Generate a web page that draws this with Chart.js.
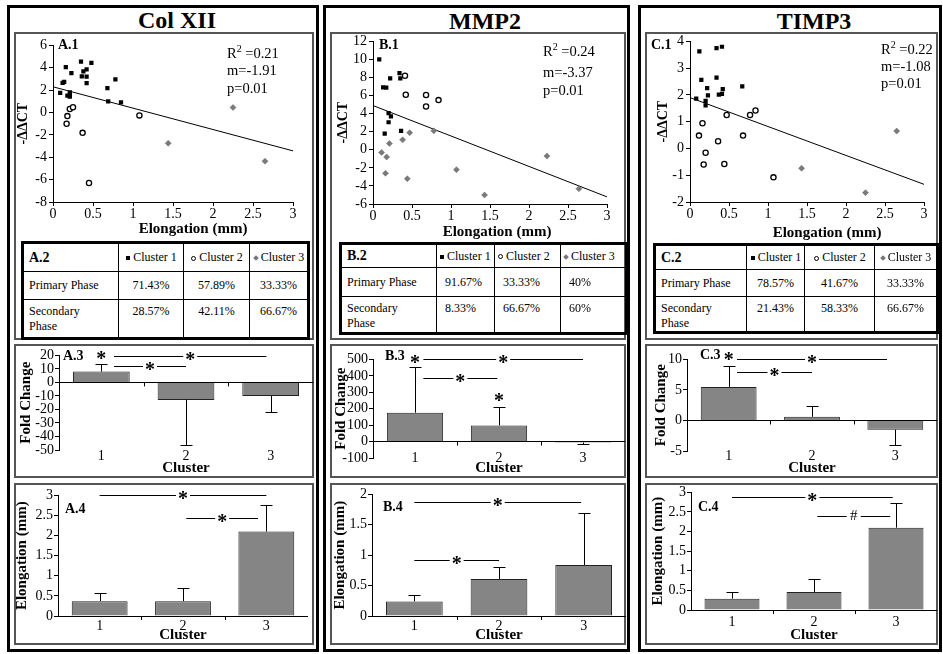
<!DOCTYPE html>
<html>
<head>
<meta charset="utf-8">
<script src="https://cdn.jsdelivr.net/npm/chart.js@4.4.0/dist/chart.umd.min.js"></script>
<style>
  body { margin: 0; width: 943px; height: 654px; background: #fff; position: relative; overflow: hidden;
         font-family: 'Liberation Serif', 'Times New Roman', serif; color: #000; }
  .col { position: absolute; border: 3px solid #000; box-sizing: border-box; }
  .box { position: absolute; border: 2px solid #555; box-sizing: border-box; }
  canvas { position: absolute; }
  .head { position: absolute; font-weight: bold; font-size: 24px; transform: translate(-50%, -50%); white-space: nowrap; }
  .xt { position: absolute; font-weight: bold; font-size: 15px; line-height: 18px; transform: translateX(-50%); white-space: nowrap; }
  .lab { position: absolute; font-weight: bold; font-size: 14px; line-height: 18px; white-space: nowrap; }
  .stat { position: absolute; font-size: 14.5px; line-height: 18px; white-space: nowrap; }
  .stat sup { font-size: 10px; line-height: 0; }
  table { position: absolute; border-collapse: collapse; border: 3px solid #000; font-size: 12px; table-layout: fixed; }
  td { border: 1px solid #000; padding: 0 5px; line-height: 15px; overflow: hidden; white-space: nowrap; }
  .mk { display: inline-block; width: 4px; height: 4px; vertical-align: middle; margin-right: 3px; }
  .m1 { background: #000; }
  .m2 { border: 1px solid #000; border-radius: 50%; width: 3px; height: 3px; }
  .m3 { background: #777; transform: rotate(45deg); }
</style>
</head>
<body>
<div class="col" style="left:7px;top:5px;width:312px;height:647px"></div>
<div class="col" style="left:323px;top:5px;width:307px;height:647px"></div>
<div class="col" style="left:638px;top:5px;width:304px;height:647px"></div>

<div class="box" style="left:14px;top:32px;width:300px;height:308px"></div>
<div class="box" style="left:14px;top:344px;width:300px;height:134px"></div>
<div class="box" style="left:14px;top:483px;width:300px;height:162px"></div>
<div class="box" style="left:330px;top:32px;width:296px;height:308px"></div>
<div class="box" style="left:330px;top:344px;width:296px;height:134px"></div>
<div class="box" style="left:330px;top:483px;width:296px;height:162px"></div>
<div class="box" style="left:645px;top:32px;width:293px;height:308px"></div>
<div class="box" style="left:645px;top:344px;width:293px;height:134px"></div>
<div class="box" style="left:645px;top:483px;width:293px;height:162px"></div>

<div class="head" style="left:177px;top:20px">Col XII</div>
<div class="head" style="left:485px;top:21px">MMP2</div>
<div class="head" style="left:814px;top:21px">TIMP3</div>

<canvas id="a1"></canvas><canvas id="b1"></canvas><canvas id="c1"></canvas>
<canvas id="a3"></canvas><canvas id="b3"></canvas><canvas id="c3"></canvas>
<canvas id="a4"></canvas><canvas id="b4"></canvas><canvas id="c4"></canvas>

<script>
// ---------- data ----------
const clusterLabels = ['1', '2', '3'];

// scatter points: [elongation (mm), -ΔΔCT]
const colXII_c1 = [[0.09,1.76],[0.12,2.65],[0.14,2.74],[0.16,4.06],[0.18,1.5],[0.21,1.8],[0.21,1.56],[0.21,1.41],
  [0.23,3.53],[0.35,4.56],[0.36,3.24],[0.38,3.68],[0.42,3.2],[0.42,3.85],[0.42,2.62],[0.48,4.44],[0.68,2.18],
  [0.69,1.0],[0.78,2.97],[0.85,0.91]];
const colXII_c2 = [[0.21,0.32],[0.25,0.47],[0.18,-0.32],[0.17,-1.0],[0.37,-1.82],[0.45,-6.3],[1.08,-0.26]];
const colXII_c3 = [[1.44,-2.75],[2.25,0.45],[2.65,-4.35]];

const mmp2_c1 = [[0.08,10.0],[0.13,6.9],[0.17,6.87],[0.22,7.9],[0.34,8.5],[0.35,7.9],[0.2,4.07],[0.23,3.7],
  [0.2,3.05],[0.15,1.8],[0.36,2.1]];
const mmp2_c2 = [[0.41,8.2],[0.42,6.1],[0.68,6.07],[0.68,4.8],[0.84,5.5]];
const mmp2_c3 = [[0.11,-0.29],[0.16,-2.6],[0.175,-0.8],[0.21,0.7],[0.38,1.1],[0.44,-3.2],[0.47,1.9],[0.78,2.1],
  [1.07,-2.2],[1.43,-5.0],[2.23,-0.7],[2.64,-4.3]];

const timp3_c1 = [[0.08,1.86],[0.12,3.63],[0.145,2.56],[0.2,1.78],[0.2,1.61],[0.22,2.25],[0.23,1.98],[0.34,3.75],
  [0.34,2.65],[0.37,2.01],[0.41,3.8],[0.41,2.04],[0.42,2.22],[0.67,2.32]];
const timp3_c2 = [[0.115,0.48],[0.16,0.94],[0.175,-0.6],[0.2,-0.16],[0.36,0.27],[0.44,-0.58],[0.47,1.25],
  [0.68,0.48],[0.77,1.25],[0.84,1.42],[1.07,-1.08]];
const timp3_c3 = [[1.43,-0.74],[2.25,-1.65],[2.65,0.65]];

const trendSlope = [-1.91, -3.37, -1.08];
const trendIntercept = [2.3, 4.9, 1.9];
const statR2 = ['0.21', '0.24', '0.22'];
const statP = ['0.01', '0.01', '0.01'];

// phase tables (%)
const colXII_primary = [71.43, 57.89, 33.33];
const colXII_secondary = [28.57, 42.11, 66.67];
const mmp2_primary = [91.67, 33.33, 40];
const mmp2_secondary = [8.33, 66.67, 60];
const timp3_primary = [78.57, 41.67, 33.33];
const timp3_secondary = [21.43, 58.33, 66.67];

// fold change bars and error-bar ends
const colXII_fold = [8, -13, -10];
const colXII_foldErr = [14, -46, -22];
const mmp2_fold = [176, 98, -6];
const mmp2_foldErr = [452, 210, -16];
const timp3_fold = [5.5, 0.6, -1.5];
const timp3_foldErr = [8.9, 2.3, -4];

// elongation bars and error-bar ends
const colXII_elong = [0.37, 0.37, 2.1];
const colXII_elongErr = [0.58, 0.7, 2.75];
const mmp2_elong = [0.24, 0.61, 0.84];
const mmp2_elongErr = [0.35, 0.8, 1.7];
const timp3_elong = [0.29, 0.46, 2.1];
const timp3_elongErr = [0.46, 0.78, 2.73];

// significance marks: [from cluster idx, to cluster idx, y value, mark]
const colXII_foldSig = [[0,0,20,'*'],[0.15,1.95,19.5,'*'],[0.15,1,12,'*']];
const mmp2_foldSig = [[0,0,505,'*'],[0.1,2,500,'*'],[0.1,0.98,388,'*'],[1,1,270,'*']];
const timp3_foldSig = [[0,0,10.6,'*'],[0.1,1.9,10,'*'],[0.1,1,7.9,'*']];
const colXII_elongSig = [[0,2,3,'*'],[1.04,1.9,2.45,'*']];
const mmp2_elongSig = [[0,1.97,1.87,'*'],[0,1,0.92,'*']];
const timp3_elongSig = [[0,1.96,2.88,'*'],[1.04,1.93,2.41,'#']];

// ---------- drawing ----------
const serif = "'Liberation Serif', 'Times New Roman', serif";
Chart.defaults.font.family = serif;
Chart.defaults.color = '#000';
const tickFmt = v => String(Math.round(v * 100) / 100);

function setCanvas(id, left, top, w, h) {
  const el = document.getElementById(id);
  el.style.left = left + 'px';
  el.style.top = top + 'px';
  el.width = w; el.height = h;
  el.style.width = w + 'px'; el.style.height = h + 'px';
  return el;
}

const barExtras = {
  id: 'barExtras',
  afterDatasetsDraw(chart, args, opts) {
    const { ctx, chartArea, scales: { x, y } } = chart;
    const meta = chart.getDatasetMeta(0);
    const vals = chart.data.datasets[0].data;
    ctx.save();
    ctx.strokeStyle = '#000';
    ctx.lineWidth = 1;
    // error bars, one side only
    opts.errs.forEach((e, i) => {
      const bx = Math.round(meta.data[i].x) + 0.5;
      const y0 = y.getPixelForValue(vals[i]);
      const y1 = Math.round(y.getPixelForValue(e)) + 0.5;
      ctx.beginPath();
      ctx.moveTo(bx, y0); ctx.lineTo(bx, y1);
      ctx.moveTo(bx - 6, y1); ctx.lineTo(bx + 6, y1);
      ctx.stroke();
    });
    // small ticks on the zero line between clusters
    const yz = y.getPixelForValue(0);
    [0.5, 1.5, 2.5].forEach(k => {
      const px = Math.round(x.getPixelForValue(k)) + 0.5;
      ctx.beginPath(); ctx.moveTo(px, yz); ctx.lineTo(px, yz + 4); ctx.stroke();
    });
    ctx.fillStyle = '#000';
    ctx.textAlign = 'center';
    ctx.textBaseline = 'middle';
    // cluster labels (drawn here so they may sit level with the lowest tick)
    ctx.font = '14px ' + serif;
    chart.data.labels.forEach((l, i) => ctx.fillText(l, x.getPixelForValue(i), chartArea.bottom + opts.labelDy));
    // significance lines
    opts.sig.forEach(([a, b, v, mark]) => {
      const xa = x.getPixelForValue(a), xb = x.getPixelForValue(b), yy = Math.round(y.getPixelForValue(v)) + 0.5;
      const xm = (xa + xb) / 2;
      if (b > a) {
        ctx.beginPath();
        ctx.moveTo(xa, yy); ctx.lineTo(xm - 7, yy);
        ctx.moveTo(xm + 7, yy); ctx.lineTo(xb, yy);
        ctx.stroke();
      }
      if (mark === '*') {
        ctx.font = 'bold 20px ' + serif;
        ctx.fillText(mark, xm, yy + 4);
      } else {
        ctx.font = '15px ' + serif;
        ctx.fillText(mark, xm, yy);
      }
    });
    ctx.restore();
  }
};

function scatterChart(id, pos, c1, c2, c3, yMin, yMax, yStep, k) {
  const el = setCanvas(id, pos.left, pos.top, pos.w, pos.h);
  const pts = arr => arr.map(p => ({ x: p[0], y: p[1] }));
  new Chart(el, {
    type: 'scatter',
    data: {
      datasets: [
        { data: pts(c1), pointStyle: 'rect', pointRadius: 3, backgroundColor: '#000', borderColor: '#000', borderWidth: 0 },
        { data: pts(c2), pointStyle: 'circle', pointRadius: 2.6, backgroundColor: '#fff', borderColor: '#000', borderWidth: 1.3 },
        { data: pts(c3), pointStyle: 'rectRot', pointRadius: 3, backgroundColor: '#7a7a7a', borderColor: '#666', borderWidth: 0.5 },
        { type: 'line', data: [{ x: 0, y: trendIntercept[k] }, { x: 3, y: trendIntercept[k] + 3 * trendSlope[k] }],
          borderColor: '#000', borderWidth: 1, pointRadius: 0 }
      ]
    },
    options: {
      responsive: false, animation: false, events: [],
      layout: { padding: { top: pos.pt, right: pos.pr, left: 0, bottom: 0 } },
      plugins: { legend: { display: false }, tooltip: { enabled: false } },
      scales: {
        x: {
          type: 'linear', min: 0, max: 3,
          ticks: { stepSize: 0.5, padding: 0, font: { size: 14 }, callback: tickFmt },
          grid: { drawOnChartArea: false, tickLength: 4, tickColor: '#000' },
          border: { color: '#000' },
          afterFit(s) { s.height = pos.xh; }
        },
        y: {
          min: yMin, max: yMax,
          ticks: { stepSize: yStep, padding: 2, autoSkip: false, font: { size: 14 }, callback: tickFmt },
          grid: { drawOnChartArea: false, tickLength: 4, tickColor: '#000' },
          border: { color: '#000' },
          title: { display: true, text: '-ΔΔCT', font: { size: 14, weight: 'bold' }, padding: { top: pos.tp, bottom: 0 } },
          afterFit(s) { s.width = pos.yw; }
        }
      }
    }
  });
}

function barChart(id, pos, vals, errs, sig, yMin, yMax, yStep, yTitle) {
  const el = setCanvas(id, pos.left, pos.top, pos.w, pos.h);
  new Chart(el, {
    type: 'bar',
    data: {
      labels: clusterLabels,
      datasets: [{ data: vals, backgroundColor: '#858585', borderColor: '#222', borderWidth: 1,
                   barPercentage: 0.67, categoryPercentage: 1 }]
    },
    options: {
      responsive: false, animation: false, events: [],
      layout: { padding: { top: pos.pt, right: pos.pr, left: 0, bottom: 0 } },
      plugins: { legend: { display: false }, tooltip: { enabled: false },
                 barExtras: { errs: errs, sig: sig, labelDy: pos.ly } },
      scales: {
        x: {
          grid: { display: false, drawTicks: false },
          border: { display: false },
          ticks: { display: false },
          title: { display: true, text: 'Cluster', font: { size: 15, weight: 'bold' }, padding: 0 },
          afterFit(s) { s.height = pos.xh; }
        },
        y: {
          min: yMin, max: yMax,
          ticks: { stepSize: yStep, padding: 1, autoSkip: false, font: { size: 14 }, callback: tickFmt },
          grid: {
            color: c => (c.tick && c.tick.value === 0) ? '#000' : 'rgba(0,0,0,0)',
            tickColor: '#000', tickLength: 4
          },
          border: { color: '#000' },
          title: { display: true, text: yTitle, font: { size: 15, weight: 'bold' }, padding: { top: pos.tp, bottom: 0 } },
          afterFit(s) { s.width = pos.yw; }
        }
      }
    },
    plugins: [barExtras]
  });
}

// scatter plots
scatterChart('a1', { left: 14, top: 35, w: 298, h: 202, pt: 8, pr: 19, yw: 39, xh: 35, tp: 1 },
  colXII_c1, colXII_c2, colXII_c3, -8, 6, 2, 0);
scatterChart('b1', { left: 332, top: 31, w: 292, h: 209, pt: 8, pr: 17, yw: 41, xh: 36, tp: 3 },
  mmp2_c1, mmp2_c2, mmp2_c3, -6, 12, 2, 1);
scatterChart('c1', { left: 647, top: 31, w: 289, h: 210, pt: 8, pr: 12, yw: 43, xh: 39, tp: 8 },
  timp3_c1, timp3_c2, timp3_c3, -2, 4, 1, 2);

// fold change
barChart('a3', { left: 16, top: 346, w: 297, h: 131, pt: 6, pr: 0, yw: 43, xh: 27, ly: 6, tp: 1 },
  colXII_fold, colXII_foldErr, colXII_foldSig, -50, 20, 10, 'Fold Change');
barChart('b3', { left: 331, top: 350, w: 294, h: 127, pt: 7, pr: 0, yw: 42, xh: 19, ly: 0, tp: 1 },
  mmp2_fold, mmp2_foldErr, mmp2_foldSig, -100, 500, 100, 'Fold Change');
barChart('c3', { left: 647, top: 350, w: 290, h: 127, pt: 7, pr: 0, yw: 40, xh: 26, ly: 5, tp: 5 },
  timp3_fold, timp3_foldErr, timp3_foldSig, -5, 10, 5, 'Fold Change');

// elongation
barChart('a4', { left: 13, top: 486, w: 295, h: 158, pt: 9, pr: 0, yw: 45, xh: 28, ly: 10, tp: 0 },
  colXII_elong, colXII_elongErr, colXII_elongSig, 0, 3, 0.5, 'Elongation (mm)');
barChart('b4', { left: 330, top: 485, w: 296, h: 159, pt: 6, pr: 0, yw: 42, xh: 28, ly: 10, tp: 1 },
  mmp2_elong, mmp2_elongErr, mmp2_elongSig, 0, 2, 0.5, 'Elongation (mm)');
barChart('c4', { left: 647, top: 483, w: 290, h: 161, pt: 6, pr: 0, yw: 44, xh: 34, ly: 12, tp: 2 },
  timp3_elong, timp3_elongErr, timp3_elongSig, 0, 3, 0.5, 'Elongation (mm)');

// overlay texts
function addText(cls, html, left, cy) {
  const d = document.createElement('div');
  d.className = cls;
  d.innerHTML = html;
  d.style.left = left + 'px';
  d.style.top = (cy - 9) + 'px';
  document.body.appendChild(d);
}
[['A.1', 58, 45], ['B.1', 379, 45], ['C.1', 651, 45],
 ['A.3', 63, 356], ['B.3', 385, 356], ['C.3', 700, 355],
 ['A.4', 65, 509], ['B.4', 383, 507], ['C.4', 698, 507]].forEach(t => addText('lab', t[0], t[1], t[2]));
[[193, 228], [497, 231], [827, 232]].forEach(p => addText('xt', 'Elongation (mm)', p[0], p[1]));

// regression stats
[[227, 53, 70, 88], [543, 51, 72, 90], [881, 49, 66, 83]].forEach((p, k) => {
  addText('stat', 'R<sup>2</sup> =' + statR2[k], p[0], p[1]);
  addText('stat', 'm=' + trendSlope[k].toFixed(2), p[0], p[2]);
  addText('stat', 'p=' + statP[k], p[0], p[3]);
});

// phase tables
const clusterHead = ['<span class="mk m1"></span>Cluster 1', '<span class="mk m2"></span>Cluster 2', '<span class="mk m3"></span>Cluster 3'];
function makeTable(left, top, colW, rowH, label, prim, sec, align, padL) {
  const t = document.createElement('table');
  t.style.left = left + 'px';
  t.style.top = top + 'px';
  t.style.width = colW.reduce((a, b) => a + b, 0) + 'px';
  const cg = document.createElement('colgroup');
  colW.forEach(w => { const c = document.createElement('col'); c.style.width = w + 'px'; cg.appendChild(c); });
  t.appendChild(cg);
  const rows = [
    ['<b style="font-size:14px">' + label + '</b>', ...clusterHead],
    ['Primary Phase', ...prim.map(v => v + '%')],
    ['Secondary<br>Phase', ...sec.map(v => v + '%')]
  ];
  rows.forEach((r, i) => {
    const tr = t.insertRow();
    tr.style.height = rowH[i] + 'px';
    r.forEach((c, j) => {
      const td = tr.insertCell();
      td.innerHTML = c;
      td.style.verticalAlign = i === 2 ? 'top' : 'middle';
      if (i === 2) td.style.paddingTop = '4px';
      if (j > 0) { td.style.textAlign = align; td.style.paddingLeft = padL + 'px'; td.style.paddingRight = '2px'; }
      if (i === 0 && j > 0) td.style.paddingLeft = '3px';
    });
  });
  document.body.appendChild(t);
}
makeTable(21, 241, [96, 65, 66, 59], [29, 28, 39], 'A.2', colXII_primary, colXII_secondary, 'center', 2);
makeTable(339, 242, [96, 58, 66, 66], [24, 29, 37], 'B.2', mmp2_primary, mmp2_secondary, 'left', 8);
makeTable(653, 243, [92, 58, 70, 63], [25, 27, 36], 'C.2', timp3_primary, timp3_secondary, 'center', 2);
</script>
</body>
</html>
